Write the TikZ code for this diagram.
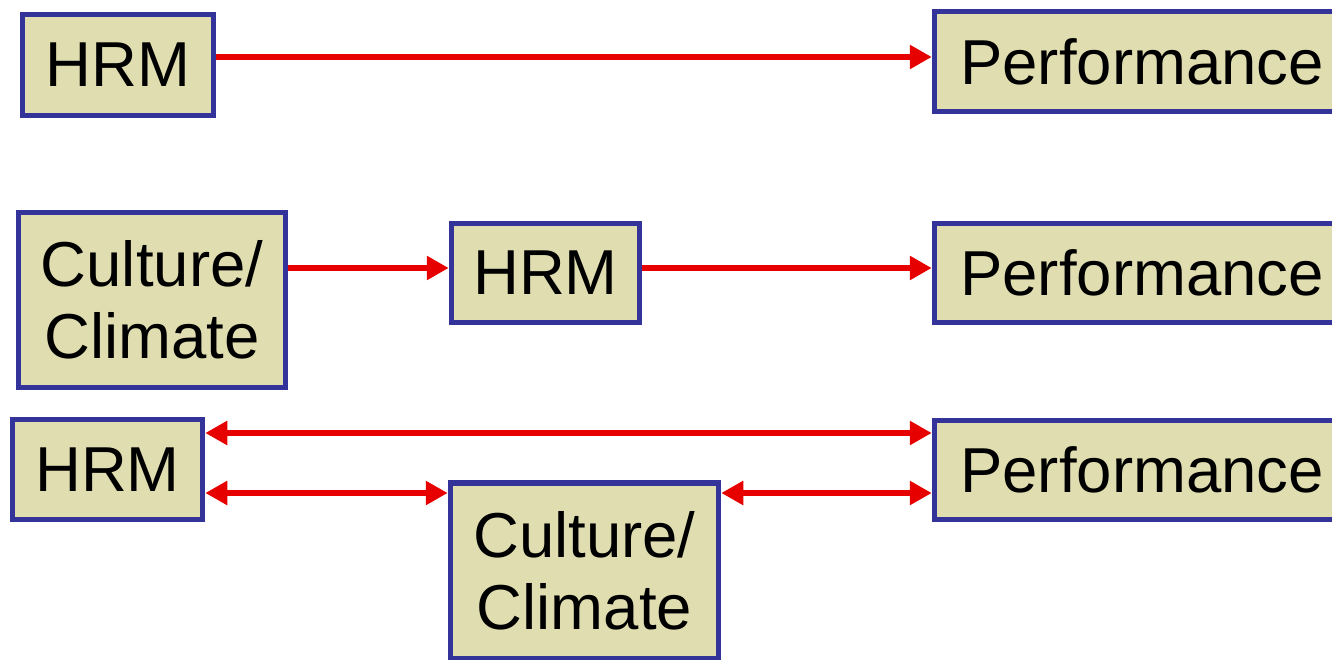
\documentclass[tikz,border=0pt]{standalone}
\usepackage{fontspec}
\setmainfont{Liberation Sans}
\usetikzlibrary{arrows.meta}
\definecolor{boxfill}{RGB}{224,222,176}
\definecolor{boxline}{RGB}{51,51,153}
\definecolor{arrred}{RGB}{230,0,0}
\begin{document}
\begin{tikzpicture}[x=1pt,y=-1pt,
  box/.style={draw=boxline,fill=boxfill,line width=5.5pt,inner sep=0pt,
    font=\fontsize{63.5}{72}\selectfont,align=center},
  arr/.style={draw=arrred,line width=6.5pt,-{Triangle[length=22pt,width=23pt]}},
  darr/.style={draw=arrred,line width=6.5pt,{Triangle[length=22pt,width=23pt]}-{Triangle[length=22pt,width=23pt]}}]
\fill[white] (0,0) rectangle (1332,660);
\useasboundingbox (0,0) rectangle (1332,660);
% row 1
\node[box,minimum width=191pt,minimum height=101pt] (hrmA) at (118,65) {HRM};
\node[box,minimum width=415pt,minimum height=100pt] (perfA) at (1142,61.5) {Performance};
% row 2
\node[box,minimum width=267pt,minimum height=175pt] (cultB) at (152,300) {Culture/\\Climate};
\node[box,minimum width=188pt,minimum height=99pt] (hrmB) at (545.5,273) {HRM};
\node[box,minimum width=415pt,minimum height=99pt] (perfB) at (1142,273) {Performance};
% row 3
\node[box,minimum width=190pt,minimum height=100pt] (hrmC) at (107.5,469.5) {HRM};
\node[box,minimum width=415pt,minimum height=99pt] (perfC) at (1142,470) {Performance};
\node[box,minimum width=268pt,minimum height=176pt] (cultC) at (584.5,571) {Culture/\\Climate};
% arrow heights
\coordinate (y1) at (0,57);
\coordinate (y2) at (0,268);
\coordinate (y3) at (0,433);
\coordinate (y4) at (0,493);
% arrows
\draw[arr] (hrmA.east |- y1) -- (perfA.west |- y1);
\draw[arr] (cultB.east |- y2) -- (hrmB.west |- y2);
\draw[arr] (hrmB.east |- y2) -- (perfB.west |- y2);
\draw[darr] (hrmC.east |- y3) -- (perfC.west |- y3);
\draw[darr] (hrmC.east |- y4) -- (cultC.west |- y4);
\draw[darr] (cultC.east |- y4) -- (perfC.west |- y4);
\end{tikzpicture}
\end{document}
